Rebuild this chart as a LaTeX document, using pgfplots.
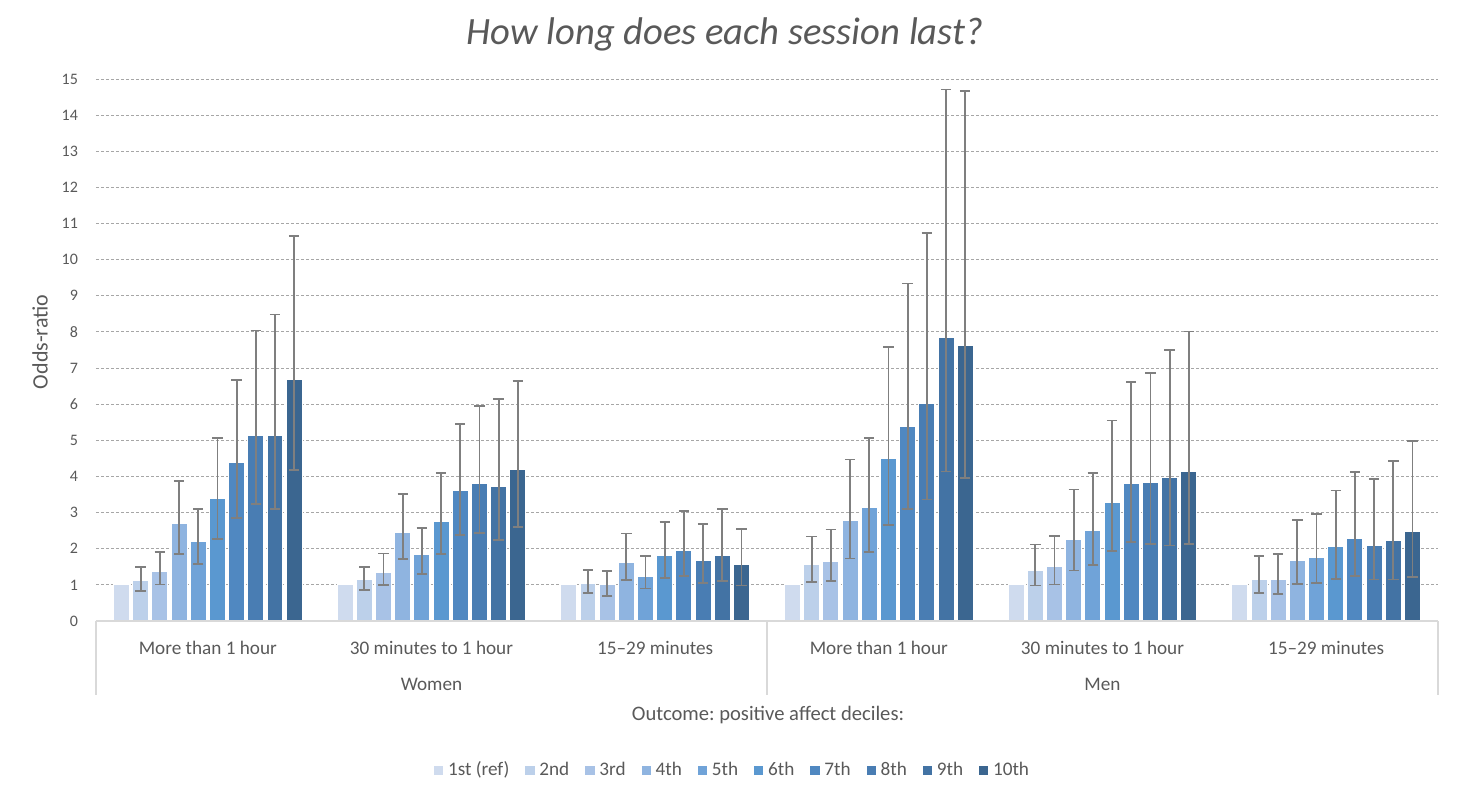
\documentclass[border=0pt]{standalone}
\usepackage{pgfplots}
\pgfplotsset{compat=1.18}
\usepackage{pgfplotstable}
\usepackage{fontspec}
\setmainfont{Carlito}
\frenchspacing
\definecolor{txt}{HTML}{595959}
\definecolor{errc}{HTML}{7F7F7F}
\definecolor{gridc}{HTML}{A6A6A6}
\definecolor{axc}{HTML}{D9D9D9}
\definecolor{c1}{HTML}{CFDBEE}
\definecolor{c2}{HTML}{BCD0EA}
\definecolor{c3}{HTML}{A8C2E6}
\definecolor{c4}{HTML}{8FB4E0}
\definecolor{c5}{HTML}{70A3D8}
\definecolor{c6}{HTML}{5A98D0}
\definecolor{c7}{HTML}{5088C1}
\definecolor{c8}{HTML}{497DB3}
\definecolor{c9}{HTML}{4373A4}
\definecolor{c10}{HTML}{3B6690}

\pgfplotstableread{
c y lo hi
0 1 1 1
1 1 1 1
2 1 1 1
3 1 1 1
4 1 1 1
5 1 1 1
}\dA
\pgfplotstableread{
c y lo hi
0 1.13 0.84 1.49
1 1.15 0.86 1.50
2 1.05 0.77 1.41
3 1.55 1.07 2.34
4 1.41 0.98 2.12
5 1.16 0.77 1.81
}\dB
\pgfplotstableread{
c y lo hi
0 1.36 1.01 1.90
1 1.35 1.00 1.87
2 1.00 0.70 1.39
3 1.65 1.11 2.53
4 1.51 1.01 2.35
5 1.16 0.74 1.85
}\dC
\pgfplotstableread{
c y lo hi
0 2.70 1.85 3.87
1 2.46 1.71 3.52
2 1.63 1.14 2.42
3 2.77 1.73 4.47
4 2.26 1.40 3.64
5 1.68 1.02 2.80
}\dD
\pgfplotstableread{
c y lo hi
0 2.20 1.57 3.11
1 1.84 1.30 2.57
2 1.24 0.90 1.79
3 3.13 1.90 5.07
4 2.51 1.55 4.10
5 1.75 1.06 2.96
}\dE
\pgfplotstableread{
c y lo hi
0 3.39 2.28 5.06
1 2.76 1.85 4.09
2 1.81 1.19 2.74
3 4.50 2.65 7.58
4 3.27 1.94 5.55
5 2.05 1.16 3.61
}\dF
\pgfplotstableread{
c y lo hi
0 4.38 2.86 6.67
1 3.61 2.37 5.46
2 1.94 1.24 3.04
3 5.37 3.09 9.34
4 3.81 2.18 6.61
5 2.27 1.24 4.12
}\dG
\pgfplotstableread{
c y lo hi
0 5.14 3.24 8.04
1 3.81 2.44 5.95
2 1.68 1.06 2.68
3 6.02 3.36 10.73
4 3.84 2.14 6.87
5 2.10 1.15 3.94
}\dH
\pgfplotstableread{
c y lo hi
0 5.14 3.09 8.48
1 3.73 2.24 6.14
2 1.82 1.10 3.10
3 7.84 4.14 14.71
4 3.98 2.09 7.51
5 2.24 1.15 4.42
}\dI
\pgfplotstableread{
c y lo hi
0 6.68 4.19 10.66
1 4.18 2.61 6.64
2 1.57 0.98 2.55
3 7.63 3.95 14.67
4 4.15 2.14 8.01
5 2.48 1.21 4.99
}\dJ

\newcommand\dplot[3]{%
\addplot[ybar, bar width=0.0715, bar shift=0pt, fill=#2, draw=white, line width=0.5pt,
  error bars/.cd, y dir=both, y explicit,
  error bar style={line width=0.9pt, color=errc},
  error mark options={rotate=90, line width=0.9pt, color=errc, mark size=2.6pt}]
  table[x expr=\thisrow{c}+#3, y=y,
        y error plus expr=\thisrow{hi}-\thisrow{y},
        y error minus expr=\thisrow{y}-\thisrow{lo}] {#1};}

\begin{document}
\begin{tikzpicture}[x=1pt,y=1pt]
\useasboundingbox (-48,-86.5) rectangle (683.5,310.5);
\begin{axis}[
  at={(0,0)}, anchor=south west,
  scale only axis, width=671pt, height=271pt,
  clip=false,
  xmin=-0.5, xmax=5.5, ymin=0, ymax=15,
  ytick={0,...,15},
  xtick={0,...,5},
  xticklabels={More than 1 hour, 30 minutes to 1 hour, 15–29 minutes, More than 1 hour, 30 minutes to 1 hour, 15–29 minutes},
  axis line style={draw=none},
  major tick length=0pt,
  tick style={draw=none},
  ymajorgrids,
  major grid style={color=gridc, line width=0.5pt, dash pattern=on 1.5pt off 1pt},
  /pgf/number format/assume math mode=true,
  yticklabel style={font=\fontsize{8}{9.6}\selectfont, text=txt, xshift=-5.5pt},
  xticklabel style={font=\fontsize{9.6}{11}\selectfont, text=txt, anchor=base, yshift=-16.5pt},
  ylabel={Odds-ratio},
  every axis y label/.style={at={(axis description cs:0,0.515)}, xshift=-28pt, rotate=90, anchor=center, font=\fontsize{11}{13}\selectfont, text=txt},
  legend columns=10,
  legend style={at={(axis description cs:0.4747,-0.2749)}, anchor=center, draw=none, fill=none,
    font=\fontsize{9.6}{11}\selectfont, text=txt,
    /tikz/every odd column/.style={column sep=0pt},
    /tikz/every even column/.style={column sep=5.5pt}},
  legend image code/.code={\draw[#1, line width=0.3pt] (0pt,-2.6pt) rectangle (5.2pt,2.6pt);},
]
\addplot[ybar, bar width=0.0715, bar shift=0pt, fill=c1, draw=white, line width=0.5pt]
  table[x expr=\thisrow{c}-0.3861, y=y] {\dA};
\dplot{\dB}{c2}{-0.3003}
\dplot{\dC}{c3}{-0.2145}
\dplot{\dD}{c4}{-0.1287}
\dplot{\dE}{c5}{-0.0429}
\dplot{\dF}{c6}{0.0429}
\dplot{\dG}{c7}{0.1287}
\dplot{\dH}{c8}{0.2145}
\dplot{\dI}{c9}{0.3003}
\dplot{\dJ}{c10}{0.3861}
\draw[axc, line width=0.75pt] (axis cs:-0.5,0) -- (axis cs:5.5,0);
\draw[axc, line width=0.75pt] (axis cs:-0.5,0) -- ([yshift=-37pt]axis cs:-0.5,0);
\draw[axc, line width=0.75pt] (axis cs:2.5,0) -- ([yshift=-37pt]axis cs:2.5,0);
\draw[axc, line width=0.75pt] (axis cs:5.5,0) -- ([yshift=-37pt]axis cs:5.5,0);
\legend{1st (ref), 2nd, 3rd, 4th, 5th, 6th, 7th, 8th, 9th, 10th}
\end{axis}
\node[font=\itshape\fontsize{19.3}{23}\selectfont, text=txt] at (314.5,293.5) {How long does each session last?};
\node[font=\fontsize{9.6}{11}\selectfont, text=txt] at (167.75,-31.5) {Women};
\node[font=\fontsize{9.6}{11}\selectfont, text=txt] at (503.25,-31.5) {Men};
\node[font=\fontsize{10.3}{12}\selectfont, text=txt] at (336,-47) {Outcome: positive affect deciles:};
\end{tikzpicture}
\end{document}
